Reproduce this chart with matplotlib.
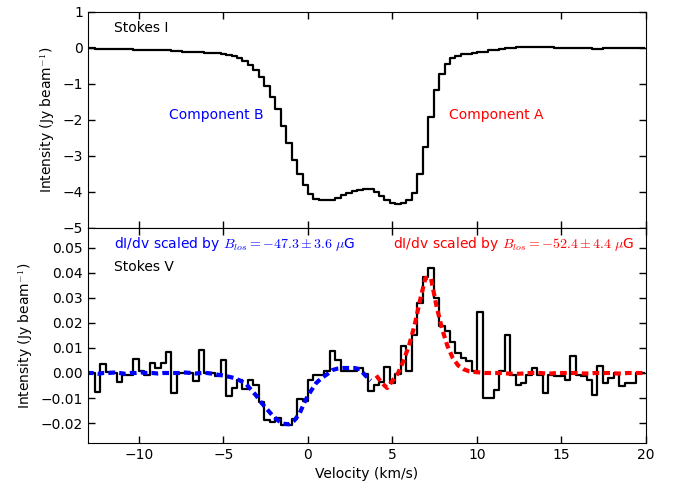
import numpy as np
import matplotlib
matplotlib.use("Agg")
import matplotlib.pyplot as plt

plt.rcParams['mathtext.fontset'] = 'cm'
plt.rcParams['font.size'] = 10

# channel grid (km/s)
chan_start = -13.233
chan_width = 0.323
n_chan = 103
vel = chan_start + chan_width * (np.arange(n_chan) + 0.5)

# Stokes I (Jy/beam)
stokes_i = [
    -0.01, -0.01, -0.02, -0.02, -0.02,
    -0.03, -0.03, -0.04, -0.04, -0.05, -0.05,
    -0.06, -0.06, -0.07, -0.06, -0.07, -0.08,
    -0.09, -0.10, -0.10, -0.11, -0.12, -0.13,
    -0.14, -0.15, -0.17, -0.19, -0.23, -0.29, -0.35,
    -0.46, -0.60, -0.81, -1.05, -1.35, -1.70, -2.17, -2.63, -3.12, -3.51, -3.81, -4.05,
    -4.19, -4.23, -4.23, -4.21, -4.16, -4.09, -4.03, -3.98, -3.94, -3.91, -3.92, -3.99,
    -4.12, -4.23, -4.30, -4.34, -4.30, -4.23, -4.03, -3.51, -2.74, -1.91, -1.18, -0.72,
    -0.44, -0.28, -0.21, -0.18, -0.16, -0.14, -0.12, -0.10, -0.07, -0.05, -0.03, -0.01,
    0.01, 0.02, 0.03, 0.04, 0.04, 0.04, 0.03, 0.02, 0.01, 0.01, 0.00, 0.00,
    0.00, -0.01, -0.01, -0.02, -0.02, -0.01, 0.00, 0.00, 0.01, 0.01, 0.00, 0.00, -0.01,
]

# Stokes V (Jy/beam)
stokes_v = [
    0.000, 0.000, -0.0076, 0.0036, 0.0004, 0.000, -0.0036, -0.001, -0.001, 0.0056,
    0.0007, -0.001, 0.004, 0.002, 0.004, 0.0083, -0.008, 0.000, 0.000, 0.000,
    -0.0033, 0.009, 0.000, 0.000, -0.0013, 0.005, -0.0093, -0.006, -0.0027, -0.0064,
    -0.0027, -0.0047, -0.0117, -0.0187, -0.0197, -0.018, -0.0209, -0.0209, -0.0183, -0.0105,
    -0.011, -0.003, -0.0007, -0.0007, 0.0007, 0.0087, 0.005, 0.0007, 0.0007, 0.0007,
    0.002, -0.0003, -0.0073, -0.005, -0.0036, 0.0024, -0.004, -0.0006, 0.0107, 0.0006,
    0.015, 0.028, 0.0385, 0.0418, 0.030, 0.0187, 0.0167, 0.0122, 0.008, 0.006,
    0.0048, 0.0008, 0.0244, -0.0099, -0.0099, -0.0067, 0.0007, 0.0153, -0.0007, -0.0047,
    -0.004, -0.0007, 0.002, -0.0007, -0.008, -0.0007, -0.0013, -0.0013, -0.0027, 0.0067,
    -0.0007, -0.0013, -0.0027, -0.0087, 0.0027, -0.004, -0.002, 0.000, -0.0053, -0.004,
    -0.004, 0.000, 0.000,
]

# scaled dI/dv fits, component B (channels 0-52) and component A (channels 53-102)
fit_b = [
    0.0, 0.0, -0.0003, 0.0, 0.0, 0.0002, 0.0, -0.0003, 0.0, 0.0, 0.0002, 0.0,
    0.0, -0.0002, 0.0, 0.0, 0.0, 0.0, 0.0002, 0.0, -0.0002, 0.0, 0.0,
    -0.0003, -0.0007, -0.001, -0.0015, -0.002, -0.003, -0.004,
    -0.0065, -0.009, -0.012, -0.0145, -0.017, -0.019, -0.0203, -0.0205, -0.019, -0.016,
    -0.011, -0.0073, -0.004, -0.002, -0.0005, 0.0012, 0.0018, 0.002, 0.002, 0.002,
    0.0015, -0.001, -0.003,
]
fit_a = [
    -0.001, -0.004, -0.006, -0.003, 0.000, 0.005, 0.011,
    0.019, 0.029, 0.038, 0.038, 0.027, 0.018, 0.011, 0.006, 0.003, 0.0015,
    0.0007, 0.0004, 0.0002, 0.0, 0.0, 0.0, 0.0, -0.0002, -0.0003, -0.0003,
    -0.0002, 0.0, 0.0, 0.0, -0.0002, -0.0002, 0.0, 0.0, 0.0, 0.0,
    0.0, -0.0002, -0.0002, 0.0, 0.0, 0.0, 0.0, -0.0002, -0.0002, 0.0,
    0.0, 0.0, 0.0,
]
n_b = len(fit_b)

fig = plt.figure(figsize=(6.73, 4.83), dpi=100)
ax1 = fig.add_axes([0.1308, 0.5280, 0.8291, 0.4472])
ax2 = fig.add_axes([0.1308, 0.0828, 0.8291, 0.4452], sharex=ax1)

ax1.step(vel, stokes_i, where='mid', color='k', lw=1.6)
ax1.set_ylim(-5, 1)
ax1.set_yticks([-5, -4, -3, -2, -1, 0, 1])
ax1.set_ylabel('Intensity (Jy beam$^{-1}$)')
ax1.text(0.047, 0.926, 'Stokes I', transform=ax1.transAxes, va='center')
ax1.text(0.230, 0.523, 'Component B', color='b', transform=ax1.transAxes,
         ha='center', va='center')
ax1.text(0.731, 0.523, 'Component A', color='r', transform=ax1.transAxes,
         ha='center', va='center')
plt.setp(ax1.get_xticklabels(), visible=False)

ax2.step(vel, stokes_v, where='mid', color='k', lw=1.6)
ax2.plot(vel[:n_b], fit_b, color='b', lw=3, ls='--', dashes=(1.6, 1.0))
ax2.plot(vel[n_b:], fit_a, color='r', lw=3, ls='--', dashes=(1.6, 1.0))
ax2.set_xlim(-13, 20)
ax2.set_ylim(-0.028, 0.058)
ax2.set_yticks([-0.02, -0.01, 0.0, 0.01, 0.02, 0.03, 0.04, 0.05])
ax2.set_xlabel('Velocity (km/s)')
ax2.set_ylabel('Intensity (Jy beam$^{-1}$)')
ax2.text(0.047, 0.926, r'dI/dv scaled by $B_{los}=-47.3\pm3.6\ \mu$G', color='b',
         transform=ax2.transAxes, va='center')
ax2.text(0.547, 0.926, r'dI/dv scaled by $B_{los}=-52.4\pm4.4\ \mu$G', color='r',
         transform=ax2.transAxes, va='center')
ax2.text(0.047, 0.819, 'Stokes V', transform=ax2.transAxes, va='center')

for ax in (ax1, ax2):
    ax.tick_params(direction='in', top=True, right=True, length=5, width=1)
    ax.set_xticks([-10, -5, 0, 5, 10, 15, 20])

fig.savefig('out.png', dpi=100)
